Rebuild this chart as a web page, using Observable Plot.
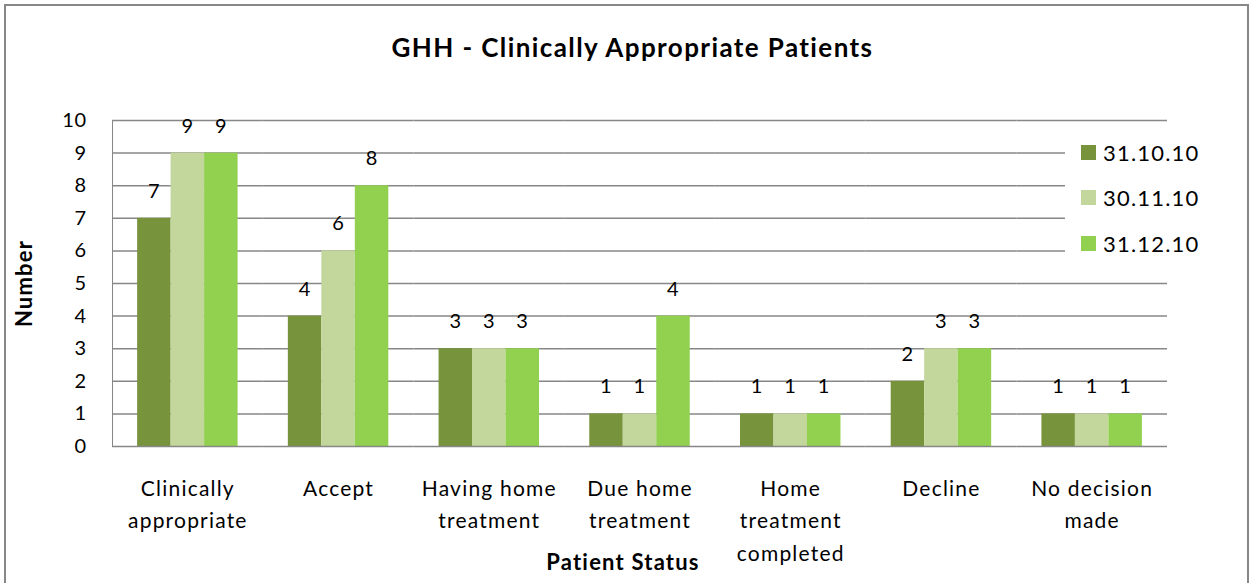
<!DOCTYPE html>
<html>
<head>
<meta charset="utf-8">
<script src="https://cdn.jsdelivr.net/npm/d3@7"></script>
<script src="https://cdn.jsdelivr.net/npm/@observablehq/plot@0.6"></script>
<style>
  html, body { margin: 0; padding: 0; background: #fff; }
  body { width: 1251px; height: 583px; overflow: hidden; position: relative; font-family: Lato, "Open Sans", sans-serif; }
  #border { position: absolute; left: 4px; top: 4px; width: 1241px; height: 660px; border: 2px solid #878787; pointer-events: none; }
  #title { height: 100px; line-height: 94px; text-align: center; padding-left: 14px; box-sizing: border-box; font-size: 26px; letter-spacing: 1.4px; font-weight: bold; color: #000; }
  #chart svg text { fill: #000; letter-spacing: 1.2px; }
  #chart g[aria-label="y-axis tick label"] text { letter-spacing: 0.5px; }
  #chart g[aria-label="y-axis label"] text, #chart g[aria-label="fx-axis label"] text { font-weight: bold; font-size: 22px; }
  #legend { position: absolute; left: 1065px; top: 132px; width: 175px; height: 133px; background: #fff; font-size: 22px; letter-spacing: 1.2px; color: #000; }
  #legend .row { position: absolute; left: 16px; height: 24px; display: flex; align-items: center; }
  #legend .sw { width: 15px; height: 15px; margin-right: 7px; }
</style>
</head>
<body>
<div id="title">GHH - Clinically Appropriate Patients</div>
<div id="chart"></div>
<div id="legend"></div>
<div id="border"></div>
<script>
const categories = ["Clinically appropriate", "Accept", "Having home treatment", "Due home treatment", "Home treatment completed", "Decline", "No decision made"];
const tickLabels = ["Clinically\nappropriate", "Accept", "Having home\ntreatment", "Due home\ntreatment", "Home\ntreatment\ncompleted", "Decline", "No decision\nmade"];
const series = ["31.10.10", "30.11.10", "31.12.10"];
const values_31_10_10 = [7, 4, 3, 1, 1, 2, 1];
const values_30_11_10 = [9, 6, 3, 1, 1, 3, 1];
const values_31_12_10 = [9, 8, 3, 4, 1, 3, 1];
const colors = ["#77933C", "#C3D69B", "#92D050"];
const yTicks = [0, 1, 2, 3, 4, 5, 6, 7, 8, 9, 10];

const seriesValues = [values_31_10_10, values_30_11_10, values_31_12_10];
const data = categories.flatMap((c, i) => series.map((s, j) => ({category: c, series: s, value: seriesValues[j][i]})));

const chart = Plot.plot({
  width: 1251,
  height: 483,
  marginTop: 20,
  marginBottom: 137,
  marginLeft: 112,
  marginRight: 84,
  style: {fontFamily: "Lato, 'Open Sans', sans-serif", fontSize: "20px", color: "#878787", background: "transparent", overflow: "visible"},
  fx: {domain: categories, padding: 0, round: false},
  x: {domain: series, paddingInner: 0, paddingOuter: 0.75, round: false, axis: null},
  y: {domain: [0, 10], ticks: yTicks, tickSize: 0, tickPadding: 26, line: true, label: "Number", labelAnchor: "center", labelOffset: 96, labelArrow: "none"},
  color: {domain: series, range: colors},
  marks: [
    Plot.ruleY(yTicks.filter(d => d > 0), {stroke: "#878787", strokeWidth: 1.5}),
    Plot.barY(data, {fx: "category", x: "series", y: "value", fill: "series"}),
    Plot.ruleY([0], {stroke: "#878787", strokeWidth: 1.5}),
    Plot.text(data, {fx: "category", x: "series", y: "value", text: d => String(d.value), dy: -27, fontSize: 20, fill: "#000"}),
    Plot.axisFx({anchor: "bottom", tickSize: 0, tickPadding: 26, fontSize: 21, lineHeight: 1.55, tickFormat: d => tickLabels[categories.indexOf(d)], label: "Patient Status", labelAnchor: "center", labelOffset: 123, labelArrow: "none"})
  ]
});
document.getElementById("chart").appendChild(chart);

// nudge the x-axis title slightly left, as in the original
const fxLabel = chart.querySelector('g[aria-label="fx-axis label"]');
if (fxLabel) {
  const t = fxLabel.getAttribute("transform") || "";
  fxLabel.setAttribute("transform", (t + " translate(-17,0)").trim());
}

const legend = document.getElementById("legend");
series.forEach((s, j) => {
  const row = document.createElement("div");
  row.className = "row";
  row.style.top = (8 + j * 45.5) + "px";
  const sw = document.createElement("div");
  sw.className = "sw";
  sw.style.background = colors[j];
  const t = document.createElement("span");
  t.textContent = s;
  row.appendChild(sw);
  row.appendChild(t);
  legend.appendChild(row);
});
</script>
</body>
</html>
